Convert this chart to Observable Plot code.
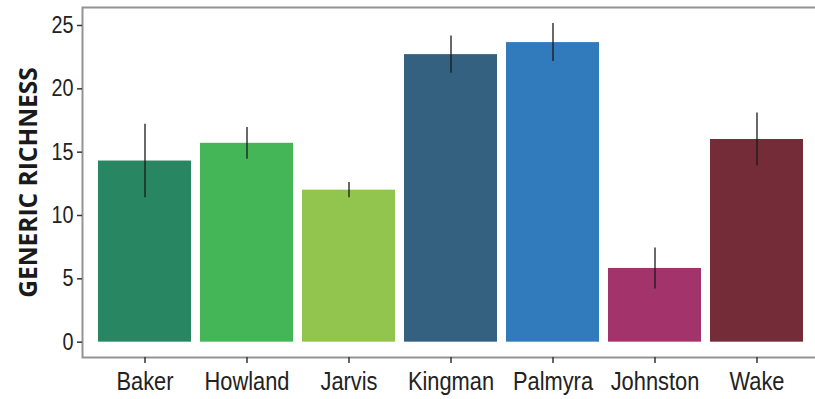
<!DOCTYPE html>
<html>
<head>
<meta charset="utf-8">
<script src="https://cdn.jsdelivr.net/npm/d3@7"></script>
<script src="https://cdn.jsdelivr.net/npm/@observablehq/plot@0.6"></script>
<style>
  html, body { margin: 0; padding: 0; background: #fff; overflow: hidden; }
  #chart { width: 815px; height: 399px; overflow: hidden; }
  #chart svg { max-width: none; }
  g[aria-label="y-axis label"] text { font-family: "Open Sans", sans-serif; font-weight: 700; font-size: 24.5px; fill: #1a1a1a; }
</style>
</head>
<body>
<div id="chart"></div>
<script>
const islands = ["Baker", "Howland", "Jarvis", "Kingman", "Palmyra", "Johnston", "Wake"];
const richness = [14.3, 15.7, 12.0, 22.7, 23.65, 5.82, 16.0];
const errors = [2.9, 1.25, 0.6, 1.47, 1.5, 1.62, 2.1];
const colors = ["#288762", "#45b657", "#91c54d", "#33617f", "#317abc", "#a3346b", "#732c38"];
const yTicks = [0, 5, 10, 15, 20, 25];

const data = islands.map((name, i) => ({
  name, value: richness[i], lo: richness[i] - errors[i], hi: richness[i] + errors[i], color: colors[i]
}));

const plot = Plot.plot({
  width: 820,
  height: 399,
  marginLeft: 82,
  marginRight: 1,
  marginTop: 7,
  marginBottom: 42,
  style: { fontFamily: "'Liberation Sans', Arial, sans-serif", background: "#fff", color: "#222" },
  x: { domain: islands, paddingInner: 0.09, paddingOuter: 0.147, label: null },
  y: { domain: [-1.21, 26.42], label: "GENERIC RICHNESS" },
  marks: [
    Plot.barY(data, { x: "name", y: "value", fill: "color" }),
    Plot.ruleX(data, { x: "name", y1: "lo", y2: "hi", stroke: "#1a1a1a", strokeWidth: 1.3 }),
    Plot.frame({ stroke: "#939393", strokeWidth: 2 }),
    Plot.axisY(yTicks, { tickSize: 5, tickPadding: 4, fontSize: 23, stroke: "#333", strokeWidth: 1.5,
      label: "GENERIC RICHNESS", labelAnchor: "center", labelArrow: "none", labelOffset: 63 }),
    Plot.axisX({ tickSize: 6, tickPadding: 8, fontSize: 26, stroke: "#333", strokeWidth: 1.5, label: null })
  ]
});
document.getElementById("chart").appendChild(plot);

// condense tick label glyphs horizontally (narrow typeface look)
d3.select(plot).selectAll('g[aria-label="x-axis tick label"] text')
  .attr("transform", function () { return (this.getAttribute("transform") || "") + " scale(0.84,1)"; });
d3.select(plot).selectAll('g[aria-label="y-axis tick label"] text')
  .attr("transform", function () { return (this.getAttribute("transform") || "") + " scale(0.86,1)"; });
</script>
</body>
</html>
